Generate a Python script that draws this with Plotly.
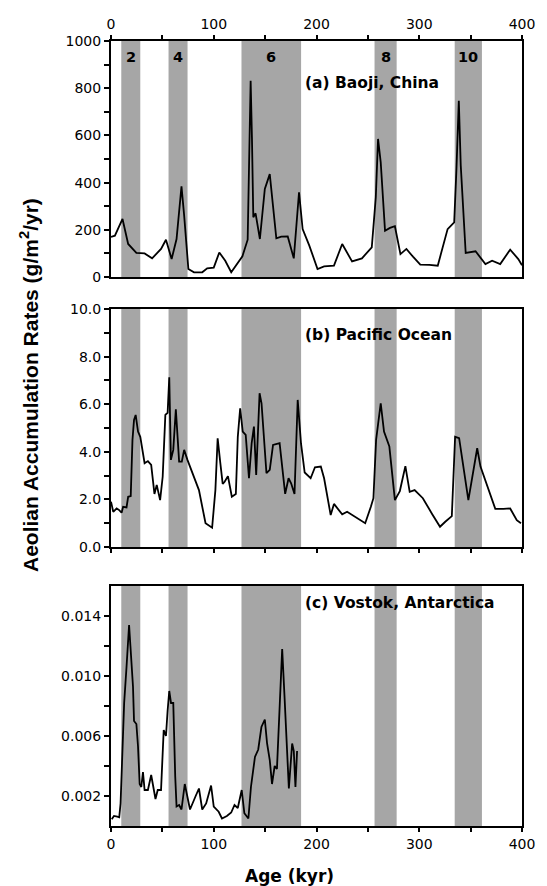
import plotly.graph_objects as go

# ---------------- data ----------------
baoji_age = [0, 3.8, 11.2, 16.7, 24.7, 32.7, 40, 48.7, 53.5, 59, 63.8, 68.6, 71.2, 75.3, 80.8, 88.8,
             93.6, 100, 105.4, 111.2, 117, 127.9, 133, 135.9, 137.2, 138.5, 140.7, 144.9, 149.7,
             154.5, 160.9, 165.7, 172, 177.9, 183, 186.5, 193, 201, 207.4, 217, 225, 234.6, 244.2,
             253.8, 257.7, 259.9, 262.5, 266.7, 271.5, 276.3, 281.7, 287.5, 293.9, 301, 309.9, 318,
             327.6, 334, 336.2, 338.5, 340.4, 345.2, 354.8, 364.4, 370.9, 378.8, 388.5, 396.4, 400]
baoji_val = [170, 175, 246, 140, 102, 100, 79, 119, 158, 76, 161, 384, 260, 34, 20, 20,
             37, 40, 104, 69, 20, 88, 158, 832, 585, 253, 270, 161, 373,
             436, 164, 171, 172, 79, 359, 203, 133, 34, 45, 48, 140, 66, 79,
             126, 338, 585, 486, 196, 208, 215, 97, 119, 86, 52, 51, 48,
             203, 232, 458, 747, 472, 102, 109, 55, 69, 55, 116, 76, 50]

pacific_age = [0, 2.2, 5.5, 8, 10.3, 11.8, 15.1, 16.7, 19.2, 20.9, 22.4, 24, 26.3, 28.5, 32.7, 35.9,
               39.1, 42.3, 44.5, 47.8, 50.3, 52.9, 55.1, 56.7, 58.3, 60.6, 63.1, 66.3, 68.9, 71.2,
               74.4, 80.8, 85.6, 92, 98.4, 101.6, 103.8, 106.4, 108.7, 110.6, 113.8, 117.6, 121.5,
               123.4, 125.7, 128.2, 131.1, 134.3, 136.9, 139.1, 141.3, 144.6, 146.5, 151.3, 154.5,
               157.7, 164.1, 169.5, 172.8, 175.3, 178.6, 181.7, 184.9, 188.5, 194.3, 198.5, 204.2,
               207.4, 213.8, 217, 225, 229.8, 236.3, 247.4, 252.9, 255.4, 258, 262.5, 265.7, 270.9,
               276.3, 281.1, 286.5, 290.7, 295.5, 303.5, 312.5, 320.2, 325.3, 331.7, 334.9, 338.8,
               347.8, 356.4, 359.6, 366, 374, 382, 388.5, 394.9, 399]
pacific_val = [1.90, 1.48, 1.62, 1.55, 1.44, 1.69, 1.66, 2.11, 2.14, 4.50, 5.34, 5.55, 4.85, 4.63, 3.52, 3.61,
               3.45, 2.23, 2.61, 1.97, 2.95, 5.55, 5.64, 7.13, 3.66, 4.08, 5.79, 3.59, 3.59, 4.08,
               3.66, 2.95, 2.39, 1.00, 0.81, 2.39, 4.57, 3.52, 2.65, 2.74, 2.98, 2.11, 2.23,
               4.63, 5.83, 4.85, 4.71, 2.89, 4.36, 5.06, 3.03, 6.46, 6.04, 3.10, 3.24,
               4.29, 4.36, 2.23, 2.89, 2.68, 2.23, 6.18, 4.36, 3.13, 2.89, 3.35, 3.38,
               2.89, 1.34, 1.81, 1.37, 1.48, 1.30, 1.00, 1.69, 2.05, 4.50, 6.04, 4.85, 4.22,
               1.97, 2.35, 3.40, 2.32, 2.39, 2.05, 1.39, 0.85, 1.06, 1.30, 4.63, 4.57,
               1.97, 4.15, 3.38, 2.61, 1.60, 1.60, 1.62, 1.13, 1.00]

vostok_age = [0.7, 2.9, 6.1, 8, 9.3, 10.9, 12.8, 15.1, 16.7, 17.6, 18.9, 20.2, 21.4, 22.4, 24.7, 26.3,
              27.9, 29.5, 31.1, 32.7, 35.9, 39.1, 40.7, 43.3, 45.5, 48.7, 51.3, 53.5, 55.1, 56.7,
              58.4, 60.6, 62.5, 63.8, 66.3, 68.6, 71.8, 74.4, 76.9, 82.4, 85.6, 88.8, 92.6, 97.4,
              100, 104.8, 108, 112.8, 117, 120.2, 123.4, 127.2, 129.8, 133.7, 136.2, 140.1, 143.3,
              146.4, 149.7, 151.9, 154.5, 156.7, 159.3, 161.5, 164.1, 166.6, 168.9, 171.2, 173.1,
              174.7, 176.3, 177.9, 179.5, 181.1]
vostok_val = [0.00045, 0.00067, 0.00062, 0.00058, 0.0015, 0.0046, 0.0082, 0.0106, 0.0123, 0.0134, 0.0120,
              0.0107, 0.0093, 0.0070, 0.0068, 0.0053, 0.0028, 0.0026, 0.0036, 0.0024, 0.0024, 0.0034,
              0.0027, 0.0018, 0.0024, 0.0024, 0.0064, 0.0060, 0.0077, 0.0090, 0.0082, 0.0082, 0.0033,
              0.0013, 0.0014, 0.0011, 0.0028, 0.0020, 0.0011, 0.0020, 0.0025, 0.0011, 0.0015, 0.0027,
              0.0013, 0.00095, 0.0005, 0.00067, 0.0009, 0.0014, 0.0012, 0.0024, 0.00085, 0.0005,
              0.0026, 0.0046, 0.0051, 0.0066, 0.0071, 0.0055, 0.0044, 0.0028, 0.0040, 0.0038, 0.0084,
              0.0118, 0.0086, 0.0048, 0.0025, 0.0040, 0.0055, 0.0050, 0.0026, 0.0050]

stage_labels = ["2", "4", "6", "8", "10"]
stage_start = [10, 56, 127, 256.5, 334.5]
stage_end = [28.5, 74.5, 185, 278, 361]

x_ticks = [0, 50, 100, 150, 200, 250, 300, 350, 400]
x_ticktext = ["0", "", "100", "", "200", "", "300", "", "400"]
a_ticks = [0, 100, 200, 300, 400, 500, 600, 700, 800, 900, 1000]
a_ticktext = ["0", "", "200", "", "400", "", "600", "", "800", "", "1000"]
b_ticks = [0, 1, 2, 3, 4, 5, 6, 7, 8, 9, 10]
b_ticktext = ["0.0", "", "2.0", "", "4.0", "", "6.0", "", "8.0", "", "10.0"]
c_ticks = [0.002, 0.004, 0.006, 0.008, 0.010, 0.012, 0.014]
c_ticktext = ["0.002", "", "0.006", "", "0.010", "", "0.014"]

panel_titles = ["(a) Baoji, China", "(b) Pacific Ocean", "(c) Vostok, Antarctica"]

# ---------------- figure ----------------
TICKFONT = dict(family="DejaVu Sans", size=14, color="black")
LINE = dict(color="black", width=1.8)

fig = go.Figure()
fig.add_trace(go.Scatter(x=baoji_age, y=baoji_val, mode="lines", line=LINE, xaxis="x", yaxis="y", showlegend=False))
fig.add_trace(go.Scatter(x=pacific_age, y=pacific_val, mode="lines", line=LINE, xaxis="x2", yaxis="y2", showlegend=False))
fig.add_trace(go.Scatter(x=vostok_age, y=vostok_val, mode="lines", line=LINE, xaxis="x3", yaxis="y3", showlegend=False))

W, H = 547, 886
ml, mr, mt, mb = 111, 20, 41, 60
ph = H - mt - mb


def dom(top_px, bot_px):
    return [(H - mb - bot_px) / ph, (H - mb - top_px) / ph]


common_x = dict(range=[0, 400], showgrid=False, zeroline=False, showline=True, linecolor="black",
                linewidth=2, mirror=True, ticks="outside", ticklen=4, tickwidth=1.5, tickcolor="black",
                tickvals=x_ticks, tickfont=TICKFONT)
common_y = dict(showgrid=False, zeroline=False, showline=True, linecolor="black", linewidth=2,
                mirror=True, ticks="outside", ticklen=5, tickwidth=1.5, tickcolor="black",
                tickfont=TICKFONT)

fig.update_layout(
    width=W, height=H,
    margin=dict(l=ml, r=mr, t=mt, b=mb),
    paper_bgcolor="white", plot_bgcolor="white",
    xaxis=dict(common_x, anchor="y", side="top", ticktext=x_ticktext),
    xaxis2=dict(common_x, anchor="y2", showticklabels=False),
    xaxis3=dict(common_x, anchor="y3", ticktext=x_ticktext),
    yaxis=dict(common_y, domain=dom(41, 277), range=[0, 1000], tickvals=a_ticks, ticktext=a_ticktext, anchor="x"),
    yaxis2=dict(common_y, domain=dom(309, 547), range=[0, 10], tickvals=b_ticks, ticktext=b_ticktext, anchor="x2"),
    yaxis3=dict(common_y, domain=dom(586, 826), range=[0, 0.016], tickvals=c_ticks, ticktext=c_ticktext, anchor="x3"),
)

shapes = []
for xr, yr in [("x", "y"), ("x2", "y2"), ("x3", "y3")]:
    for s, e in zip(stage_start, stage_end):
        shapes.append(dict(type="rect", xref=xr, yref=yr + " domain", x0=s, x1=e, y0=0, y1=1,
                           fillcolor="#a6a6a6", line=dict(width=0), layer="below"))
fig.update_layout(shapes=shapes)

ann = []
for lab, s, e in zip(stage_labels, stage_start, stage_end):
    ann.append(dict(text="<b>" + lab + "</b>", x=(s + e) / 2, y=933, xref="x", yref="y", showarrow=False,
                    font=dict(family="DejaVu Sans", size=14.5, color="black")))
title_pos = [("x", "y", 822), ("x2", "y2", 8.9), ("x3", "y3", 0.01487)]
for t, (xr, yr, yv) in zip(panel_titles, title_pos):
    ann.append(dict(text="<b>" + t + "</b>", x=186.5, y=yv, xref=xr, yref=yr, xanchor="left",
                    yanchor="middle", showarrow=False,
                    font=dict(family="DejaVu Sans", size=15.5, color="black")))
ann.append(dict(text="<b>Age (kyr)</b>", x=(292 - ml) / (W - ml - mr), y=(H - mb - 876) / ph,
                xref="paper", yref="paper", showarrow=False, xanchor="center", yanchor="middle",
                font=dict(family="DejaVu Sans", size=17, color="black")))
ann.append(dict(text="<b>Aeolian Accumulation Rates (g/m<sup>2</sup>/yr)</b>", textangle=-90,
                x=(28 - ml) / (W - ml - mr), y=(H - mb - 385) / ph,
                xref="paper", yref="paper", showarrow=False, xanchor="center", yanchor="middle",
                font=dict(family="Liberation Sans", size=21, color="black")))
fig.update_layout(annotations=ann)

fig.write_html("out.html")
